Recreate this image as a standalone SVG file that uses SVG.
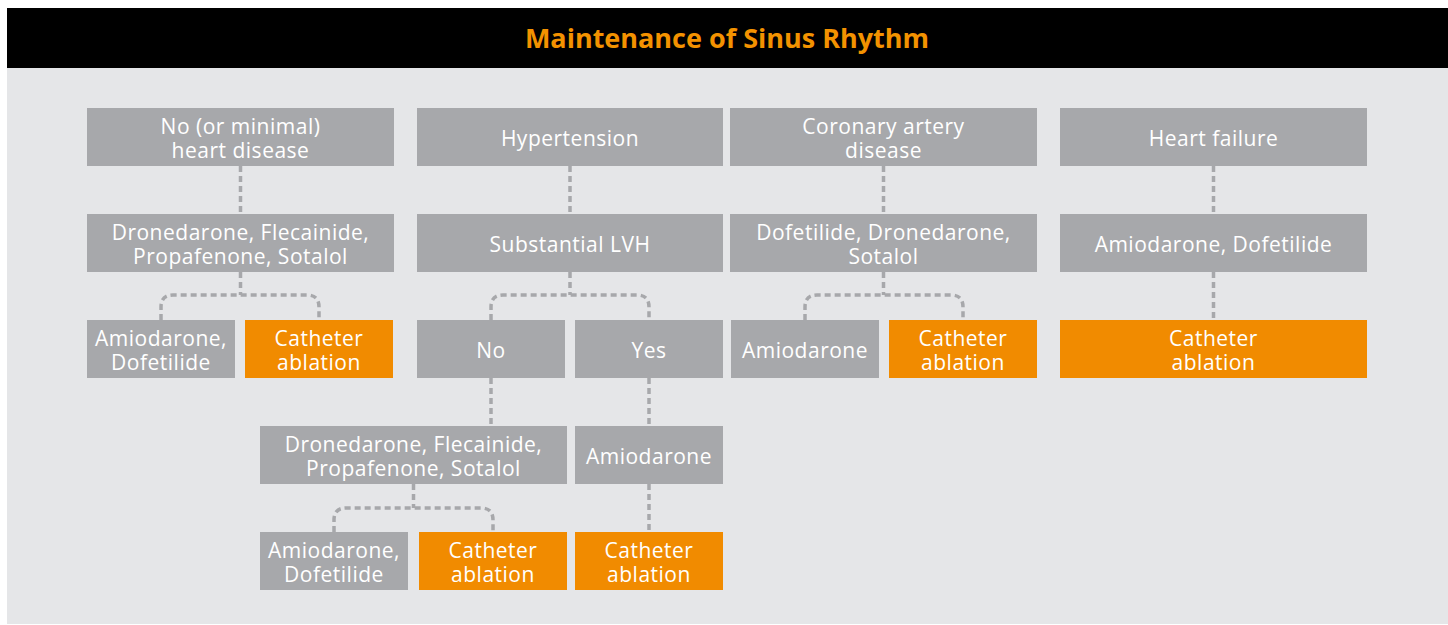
<svg xmlns="http://www.w3.org/2000/svg" width="1448" height="625" viewBox="0 0 1448 625">
<style>
.bg{fill:#e5e6e8}
.g{fill:#a7a8ab}
.o{fill:#f18b00}
.t{font-family:"Open Sans","Noto Sans",sans-serif;font-size:21px;fill:#ffffff;text-anchor:middle;letter-spacing:0.5px}
.title{font-family:"Open Sans","Noto Sans",sans-serif;font-size:27px;font-weight:bold;fill:#f39200;text-anchor:middle}
.c{fill:none;stroke:#a7a8ab;stroke-width:3.5;stroke-dasharray:6 4}
</style>
<rect x="0" y="0" width="1448" height="625" fill="#ffffff"/>
<rect class="bg" x="7" y="68" width="1441" height="556"/>
<rect x="7" y="8" width="1441" height="60" fill="#000000"/>
<text class="title" x="727" y="48">Maintenance of Sinus Rhythm</text>

<g id="connectors">
<path class="c" d="M240.5 166V214"/>
<path class="c" d="M240.5 272V295"/>
<path class="c" d="M161 320V307Q161 295 173 295H307Q319 295 319 307V320"/>
<path class="c" d="M570 166V214"/>
<path class="c" d="M570 272V295"/>
<path class="c" d="M491 320V307Q491 295 503 295H637Q649 295 649 307V320"/>
<path class="c" d="M491 378V426"/>
<path class="c" d="M649 378V426"/>
<path class="c" d="M649 484V532"/>
<path class="c" d="M413.5 484V508"/>
<path class="c" d="M334 532V520Q334 508 346 508H481Q493 508 493 520V532"/>
<path class="c" d="M883.5 166V214"/>
<path class="c" d="M883.5 272V295"/>
<path class="c" d="M805 320V307Q805 295 817 295H951Q963 295 963 307V320"/>
<path class="c" d="M1213.5 166V214"/>
<path class="c" d="M1213.5 272V320"/>
</g>

<g id="n-nohd"><rect class="g" x="87" y="108" width="307" height="58"/><text class="t" x="240.5" y="134">No (or minimal)</text><text class="t" x="240.5" y="158">heart disease</text></g>
<g id="n-drone1"><rect class="g" x="87" y="214" width="307" height="58"/><text class="t" x="240.5" y="240">Dronedarone, Flecainide,</text><text class="t" x="240.5" y="264">Propafenone, Sotalol</text></g>
<g id="n-amiodof1"><rect class="g" x="87" y="320" width="148" height="58"/><text class="t" x="161" y="346">Amiodarone,</text><text class="t" x="161" y="370">Dofetilide</text></g>
<g id="n-cath1"><rect class="o" x="245" y="320" width="148" height="58"/><text class="t" x="319" y="346">Catheter</text><text class="t" x="319" y="370">ablation</text></g>

<g id="n-htn"><rect class="g" x="417" y="108" width="306" height="58"/><text class="t" x="570" y="145.5">Hypertension</text></g>
<g id="n-lvh"><rect class="g" x="417" y="214" width="306" height="58"/><text class="t" x="570" y="251.5">Substantial LVH</text></g>
<g id="n-no"><rect class="g" x="417" y="320" width="148" height="58"/><text class="t" x="491" y="357.5">No</text></g>
<g id="n-yes"><rect class="g" x="575" y="320" width="148" height="58"/><text class="t" x="649" y="357.5">Yes</text></g>
<g id="n-drone2"><rect class="g" x="260" y="426" width="307" height="58"/><text class="t" x="413.5" y="452">Dronedarone, Flecainide,</text><text class="t" x="413.5" y="476">Propafenone, Sotalol</text></g>
<g id="n-amio2"><rect class="g" x="575" y="426" width="148" height="58"/><text class="t" x="649" y="463.5">Amiodarone</text></g>
<g id="n-amiodof2"><rect class="g" x="260" y="532" width="148" height="58"/><text class="t" x="334" y="558">Amiodarone,</text><text class="t" x="334" y="582">Dofetilide</text></g>
<g id="n-cath2"><rect class="o" x="419" y="532" width="148" height="58"/><text class="t" x="493" y="558">Catheter</text><text class="t" x="493" y="582">ablation</text></g>
<g id="n-cath3"><rect class="o" x="575" y="532" width="148" height="58"/><text class="t" x="649" y="558">Catheter</text><text class="t" x="649" y="582">ablation</text></g>

<g id="n-cad"><rect class="g" x="730" y="108" width="307" height="58"/><text class="t" x="883.5" y="134">Coronary artery</text><text class="t" x="883.5" y="158">disease</text></g>
<g id="n-dofe"><rect class="g" x="730" y="214" width="307" height="58"/><text class="t" x="883.5" y="240">Dofetilide, Dronedarone,</text><text class="t" x="883.5" y="264">Sotalol</text></g>
<g id="n-amio3"><rect class="g" x="731" y="320" width="148" height="58"/><text class="t" x="805" y="357.5">Amiodarone</text></g>
<g id="n-cath4"><rect class="o" x="889" y="320" width="148" height="58"/><text class="t" x="963" y="346">Catheter</text><text class="t" x="963" y="370">ablation</text></g>

<g id="n-hf"><rect class="g" x="1060" y="108" width="307" height="58"/><text class="t" x="1213.5" y="145.5">Heart failure</text></g>
<g id="n-amiodof3"><rect class="g" x="1060" y="214" width="307" height="58"/><text class="t" x="1213.5" y="251.5">Amiodarone, Dofetilide</text></g>
<g id="n-cath5"><rect class="o" x="1060" y="320" width="307" height="58"/><text class="t" x="1213.5" y="346">Catheter</text><text class="t" x="1213.5" y="370">ablation</text></g>
</svg>
